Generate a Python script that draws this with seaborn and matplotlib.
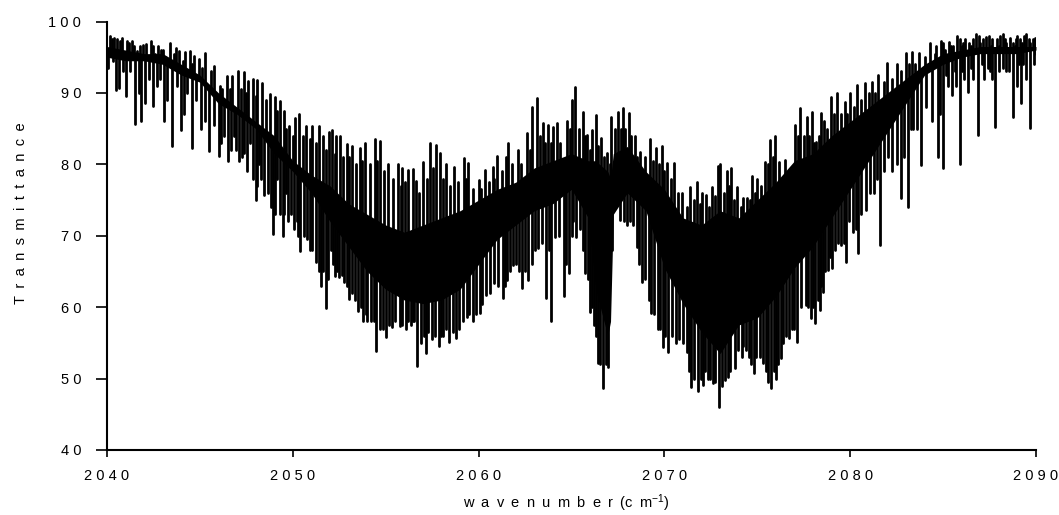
import matplotlib
matplotlib.use("Agg")
import matplotlib.pyplot as plt
from matplotlib.ticker import FuncFormatter
import numpy as np
import pandas as pd
import seaborn as sns

# Upper tips of the tallest spectral teeth
top_x = [2040.02,2040.15,2040.4,2040.55,2040.8,2041.1,2041.35,2041.6,2041.95,2042.35,2042.75,2043.0,2043.4,2043.7,2043.9,2044.2,2044.45,2044.7,2044.95,2045.3,
 2045.75,2046.2,2046.45,2046.75,2047.05,2047.35,2047.6,2047.85,2048.1,2048.35,2048.75,2049.05,2049.3,2049.55,2049.8,2050.1,2050.35,2050.7,2051.05,2051.4,
 2051.65,2051.95,2052.1,2052.35,2052.55,2052.9,2053.2,2053.6,2053.9,2054.4,2054.7,2055.15,2055.65,2055.9,2056.2,2056.45,2056.65,2057.0,2057.4,2057.7,
 2057.9,2058.25,2058.7,2059.2,2059.45,2060.0,2060.35,2060.75,2061.0,2061.45,2061.6,2062.1,2062.6,2062.9,2063.15,2063.45,2063.75,2064.0,2064.2,2064.75,
 2065.0,2065.2,2065.6,2065.85,2066.1,2066.3,2066.6,2066.9,2067.15,2067.5,2067.75,2068.1,2068.4,2068.7,2069.2,2069.55,2069.85,2070.15,2070.5,2070.95,
 2071.4,2071.75,2072.0,2072.25,2072.55,2072.9,2073.0,2073.35,2073.6,2073.9,2074.25,2074.45,2074.7,2075.0,2075.4,2075.7,2075.95,2076.15,2076.5,2077.05,
 2077.3,2077.7,2077.95,2078.15,2078.45,2078.6,2078.95,2079.3,2079.7,2080.0,2080.35,2080.8,2081.2,2081.5,2082.0,2082.5,2083.0,2083.3,2083.7,2084.3,
 2084.9,2085.3,2085.75,2086.2,2086.75,2087.3,2088.2,2088.6,2089.0,2089.45,2089.95]
top_y = [95.5,98,97.7,97.5,97.7,97.3,97.2,95.8,96.7,97.3,96.5,96,97,96.3,95.8,95.7,95.8,95.2,94.7,95.6,
 93.8,90.5,92.3,92.4,93.1,92.9,91.7,91.9,91.8,91.4,89.9,89.4,88.8,87.4,85.4,86.5,87,85.4,85.4,85.4,
 84,84.5,84.8,84,84,82.9,82.5,82.3,83,83.5,83.2,80,80,79.5,79.2,79.3,77.7,80.3,83,82.7,
 81.6,80,79.6,80.9,80.2,77.8,79.2,79.6,81.2,81,83,82,84.4,88,89.3,85.8,85.5,85.2,85.8,86,
 89,90.8,87.3,84.1,84.8,86.9,83.7,81.6,86.6,87.3,87.9,87.2,84,81.7,83.5,82.3,82.6,80.2,80.2,76,
 76.8,77.5,76,75.7,76.8,79.8,80,79,79.5,76.8,75.3,75.3,78.4,78,80.3,83.4,84,80.3,80.6,85.5,
 87.9,86.6,87.3,83.1,87.2,86,89.4,90,88.7,90,91.1,91.4,91.5,92.5,94.2,94.1,95.6,95.7,95.6,97,
 97.3,97.1,98,97.5,98.3,97.8,98.3,97.7,98,98.3,97.7]

# Lower tips of the deepest spectral teeth
dip_x = [2040.05,2040.3,2040.47,2040.66,2041.0,2041.25,2041.5,2041.85,2042.03,2042.5,2042.85,2043.05,2043.5,2043.78,2044.0,2044.3,2044.55,2044.8,2045.05,2045.5,
 2046.04,2046.3,2046.5,2046.85,2047.1,2047.4,2047.7,2048.0,2048.2,2048.45,2048.95,2049.15,2049.45,2049.65,2049.9,2050.2,2050.4,2050.9,2051.27,2051.5,
 2051.77,2052.05,2052.25,2052.5,2052.75,2053.0,2053.5,2053.8,2054.0,2054.5,2055.0,2055.35,2055.75,2056.1,2056.35,2056.55,2056.7,2057.15,2057.5,2057.85,
 2058.1,2058.4,2058.8,2059.35,2059.7,2060.05,2060.4,2060.85,2061.3,2061.55,2061.85,2062.35,2062.65,2063.05,2063.2,2063.65,2063.9,2064.1,2064.6,2064.85,
 2065.1,2065.25,2065.75,2066.0,2066.2,2066.4,2066.7,2066.95,2067.2,2067.6,2068.0,2068.3,2068.5,2068.8,2069.3,2069.65,2069.9,2070.2,2070.6,2071.2,
 2071.45,2071.8,2072.1,2072.35,2072.6,2072.95,2073.25,2073.4,2073.8,2074.15,2074.4,2074.65,2074.8,2075.3,2075.55,2075.75,2076.0,2076.25,2076.7,2077.15,
 2077.6,2077.9,2078.1,2078.35,2078.55,2078.8,2079.0,2079.5,2079.8,2080.15,2080.4,2080.85,2081.3,2081.6,2082.25,2082.75,2083.1,2083.4,2083.8,2084.7,
 2085.0,2085.5,2085.9,2086.35,2086.9,2087.8,2088.4,2088.75,2089.2,2089.7,2090.0]
dip_y = [93.5,94.5,90.4,90.7,89.5,93,85.6,86,88.6,88.1,92,86,82.6,91,84.8,90,82.3,89,84.9,81.9,
 81.2,84,80.5,84,80.5,81.6,83,75,80,75.7,70.2,78,70,76,73,72,67.9,68,66.3,63,
 59.9,68,64.4,64.2,63.5,61.1,59.4,58.1,58,53.9,55.8,57.2,57.3,57,57.5,58,51.8,53.6,55.5,54.6,
 56,55.1,55.7,58.6,58,59.2,61.7,63.4,61.3,63.8,65.9,62.7,63.8,68,68.3,61.3,58,69.8,61.6,64.8,
 72,69.8,64.8,59.3,57.5,52.2,48.7,51.6,68,72.2,71.5,71.5,68.4,63.5,59.2,57,54.4,53.7,55,53.7,
 48.8,48.2,49.1,50,49.4,46,49.8,50.2,51.5,53,54,52,50.8,52.2,49.5,48.7,50,52.9,55.7,55.1,
 60.3,58.5,57.8,59.6,62.1,65.2,65.5,68.7,66.3,70.5,67.6,73.6,76,68.7,79,75.3,74,85,79.9,81,
 79.5,89.7,80,90.1,84.1,85.2,93,86.6,88.6,85.1,95.5]

# Shorter teeth along the upper edge of the band
minor_top_x = [2042.6,2043.1,2043.6,2044.1,2044.6,2045.1,2045.6,2046.1,2046.6,2047.2,2047.5,2048.0,2048.55,2049.15,2049.65,2050.0,2050.55,2050.9,2051.25,2051.8,
 2052.25,2052.7,2053.05,2053.4,2053.75,2054.15,2054.55,2054.9,2055.4,2055.8,2056.05,2056.8,2057.2,2057.55,2058.1,2058.45,2058.9,2059.3,2059.7,2060.15,
 2060.55,2060.85,2061.25,2061.8,2062.3,2062.75,2063.3,2063.6,2063.9,2064.4,2064.9,2065.4,2065.75,2066.0,2066.45,2066.75,2067.05,2067.35,2067.65,2067.9,
 2068.2,2068.55,2068.95,2069.4,2069.7,2070.0,2070.35,2070.75,2071.2,2071.6,2071.9,2072.4,2072.75,2073.2,2073.5,2073.75,2074.1,2074.6,2074.85,2075.2,
 2075.55,2075.85,2076.3,2076.75,2077.2,2077.5,2077.8,2078.05,2078.3,2078.75,2079.15,2079.5,2079.85,2080.2,2080.6,2081.0,2081.35,2081.8,2082.25,2082.75,
 2083.15,2083.5,2084.0,2084.55,2085.1,2085.55,2086.0,2086.5,2087.0,2087.6,2088.0,2088.4,2088.85,2089.25,2089.7]
minor_top_y = [95.5,95,95.5,94.5,94,93.5,93,91,90.5,90.5,90,89.5,89,87.5,85,84,84,83.5,83,82,
 81.5,81,81,80,80.5,80,80.5,79,78,77,77.5,76,78,79.5,78,77,77.5,78,76.5,76.5,
 77.5,78,79,80,80,82,84,83,83,83,85,85,84,82,82.5,81,80,85,85,85,
 84,81,81,80.5,80,79,78,76,74,75,74.5,74,75.5,76,77,75,74,75,76,77,
 80,81,78,79,84,84,84,83,84,85,87,87,87,88,89,90,90,91.5,92,93,
 94,94,95,95.5,96,96.5,96.5,96.5,97,96.5,96.5,97,96.5,97,97]

# Shorter teeth along the lower edge of the band
minor_dip_x = [2040.85,2041.7,2042.25,2042.7,2043.25,2044.15,2045.25,2045.75,2046.15,2046.65,2046.95,2047.25,2047.55,2047.85,2048.1,2048.3,2048.65,2048.8,2049.05,2049.3,
 2049.55,2049.75,2050.05,2050.3,2050.6,2050.75,2051.05,2051.4,2051.65,2051.9,2052.15,2052.4,2052.65,2052.9,2053.2,2053.35,2053.65,2053.95,2054.2,2054.35,
 2054.7,2054.85,2055.2,2055.5,2055.9,2056.2,2056.45,2056.9,2057.05,2057.3,2057.65,2058.0,2058.25,2058.6,2058.95,2059.15,2059.5,2059.85,2060.2,2060.6,
 2061.05,2061.4,2061.7,2062.0,2062.2,2062.5,2062.85,2063.4,2063.8,2064.35,2064.7,2065.0,2065.45,2065.6,2065.9,2066.1,2066.3,2066.55,2066.85,2067.8,
 2068.15,2068.65,2068.95,2069.15,2069.45,2069.75,2070.05,2070.4,2070.8,2071.0,2071.35,2071.6,2071.95,2072.2,2072.45,2072.75,2073.1,2073.55,2073.95,2074.25,
 2074.55,2074.95,2075.15,2075.45,2075.9,2076.1,2076.4,2076.55,2076.85,2077.0,2077.35,2077.75,2078.0,2078.25,2078.45,2078.65,2078.9,2079.2,2079.35,2079.65,
 2079.95,2080.3,2080.6,2081.05,2081.45,2081.8,2082.05,2082.5,2082.9,2083.25,2083.6,2084.1,2084.4,2084.85,2085.25,2085.7,2086.1,2086.6,2087.2,2087.5,
 2088.0,2089.0,2089.45]
minor_dip_y = [93,90,92,91,89,87,86,85.5,83,82,82,81,79,78,77,78,76,74,73,73,
 73,72,71,70,70,69.5,68,65,65,64,66,65,64.5,63,62,61,60,59,58,58,
 57,57,57.5,58,57.5,58,58,55,56,56.5,56,56,57,56.5,57,58,59,59,60.5,62,
 63,63,65,66,65,65,66,69,68,70,66,70,71,68,64,60,56,52,52,72,
 72,66,64,61,59,57,56,56,55.5,55,51,50,50,51,50,49.5,49,51,54,54.5,
 53,53,53,51,51,52,55,56,57,57,60,60,60,61,63,65,67,68,69,69,
 72,71,73,76,78,79,81,80,81,85,85,88,86,87,91,91,92,92,92,93,
 93,91,92]

# Fine teeth at both flat ends of the spectrum
end_x = [2040.25,2040.7,2041.2,2041.45,2041.75,2042.1,2042.5,2042.9,2084.6,2085.0,2085.4,2085.9,2086.05,2086.4,2086.6,2086.95,2087.15,2087.45,2087.65,2087.9,
 2088.05,2088.35,2088.75,2088.95,2089.15,2089.35,2089.6,2089.85,2085.15,2085.65,2086.02,2086.5,2087.1,2087.4,2087.62,2088.2,2088.55,2089.1,2089.32,2089.9]
end_y = [97.5,97.3,97,96.5,96.5,96.8,96.5,96,96.5,97,96.5,97.5,97,97,97.5,98,97.5,98,97.5,97.5,
 98,97.5,97,97.5,97.5,98,97.5,97.5,92.5,93,93,93.5,94,93.5,92,93.5,93,94,94,94]

# Solid dark core of the unresolved spectrum
core_x = [2040,2041,2042,2043,2044,2045,2046,2047,2048,2049,2050,2051,2052,2053,2054,2055,2056,2057,2058,2059,
 2060,2061,2062,2063,2064,2065,2065.9,2066.3,2066.95,2067.1,2067.25,2068,2069,2070,2071,2072,2073,2074,2075,2076,
 2077,2078,2079,2080,2081,2082,2083,2084,2085,2086,2087,2088,2089,2090]
core_hi = [96.5,96,95.5,95.5,94,92.5,90,88,86,84,80.5,78.5,77,74.5,73,71.5,70.5,71.5,72.5,73.5,
 75,76.5,77.5,79.5,80.5,81.5,80.5,80.5,79,78,81.5,82.5,79,76.5,72.5,71.5,73.5,72.5,75,77.5,
 80.5,81.5,84,86,88,90,92,94,95.5,96,96.5,96.5,96.5,96.5]
core_lo = [95,94.5,94.5,94,92.5,91.5,88.5,87,85,81.5,79,76,72,68.5,65,62.5,61,60.5,61,62.5,
 66,69.5,71.5,73.5,74.5,76.5,72.5,62.5,56,58,73,76,73.5,65.5,60.5,56.5,53.5,57.5,58.5,61.5,
 65.5,68.5,72.5,76.5,80.5,84.5,88.5,92.5,94,95,95.5,95.5,95.5,96]

x_ticks = [2040, 2050, 2060, 2070, 2080, 2090]
y_ticks = [40, 50, 60, 70, 80, 90, 100]
x_title = "wavenumber"
y_title = "Transmittance"

sns.set_theme(style="ticks")
plt.rcParams["font.family"] = ["Liberation Sans", "DejaVu Sans"]
plt.rcParams["mathtext.default"] = "regular"

tip_x = np.concatenate([top_x, dip_x, minor_top_x, minor_dip_x, end_x])
tip_y = np.concatenate([top_y, dip_y, minor_top_y, minor_dip_y, end_y])
core_mid = (np.array(core_hi) + np.array(core_lo)) / 2
anchor_y = np.interp(tip_x, core_x, core_mid)
ids = np.arange(tip_x.size)
spectrum = pd.DataFrame({
    "wavenumber": np.concatenate([tip_x, tip_x]),
    "transmittance": np.concatenate([tip_y, anchor_y]),
    "tooth": np.concatenate([ids, ids]),
})

fig = plt.figure(figsize=(10.59, 5.15), dpi=100)
ax = fig.add_axes([107 / 1059, 1 - 450 / 515, 929 / 1059, 428.5 / 515])
ax.fill_between(core_x, core_lo, core_hi, color="black", lw=0)
sns.lineplot(data=spectrum, x="wavenumber", y="transmittance", units="tooth", sort=False,
             estimator=None, color="black", linewidth=2.0, ax=ax)

ax.set_xlim(2040, 2090)
ax.set_ylim(40, 100)
ax.set_xticks(x_ticks)
ax.set_yticks(y_ticks)
spaced = FuncFormatter(lambda v, _: " ".join(str(int(v))))
ax.xaxis.set_major_formatter(spaced)
ax.yaxis.set_major_formatter(spaced)
ax.tick_params(axis="both", colors="black", labelsize=10.5, width=1.2)
ax.tick_params(axis="y", length=8, pad=10.5)
ax.tick_params(axis="x", length=5, pad=9)
for name in ("left", "bottom"):
    ax.spines[name].set_linewidth(1.5)
    ax.spines[name].set_color("black")
sns.despine(ax=ax)
gap = "\u2002"
ax.set_xlabel(gap.join(x_title) + gap + "(" + gap.join("cm") + "$^{-1}$)", fontsize=10.5, color="black")
ax.set_ylabel(gap.join(y_title), fontsize=10.5, color="black")
ax.xaxis.set_label_coords((566 - 107) / 929, -0.1, transform=ax.transAxes)
ax.yaxis.set_label_coords((28 - 107) / 929, (450 - 213) / 428.5, transform=ax.transAxes)
fig.savefig("out.png", dpi=100)
